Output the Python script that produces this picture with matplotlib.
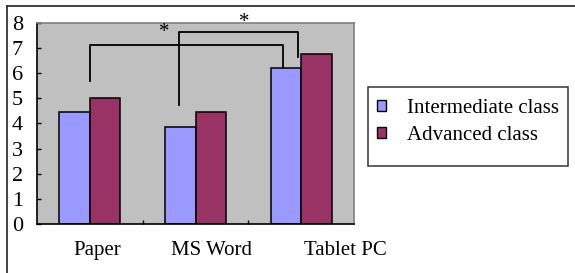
import matplotlib
matplotlib.use("Agg")
import matplotlib.pyplot as plt
from matplotlib.patches import Rectangle, Patch
from matplotlib.lines import Line2D
import numpy as np

plt.rcParams['font.family'] = ['Liberation Serif', 'DejaVu Serif']

categories = ["Paper", "MS Word", "Tablet PC"]
intermediate = [4.45, 3.85, 6.2]
advanced = [5.0, 4.45, 6.78]
series_names = ["Intermediate class", "Advanced class"]
y_ticks = [0, 1, 2, 3, 4, 5, 6, 7, 8]

c_int = "#9999FF"
c_adv = "#993366"
FS = 15

W, H = 575, 273
fig = plt.figure(figsize=(W / 100, H / 100), dpi=100)
ax = fig.add_axes([37 / W, 1 - 224 / H, (354 - 37) / W, (224 - 23) / H])
ax.set_facecolor("#C0C0C0")

x = np.arange(len(categories))
bw = 0.289
ax.bar(x - bw / 2, intermediate, bw, color=c_int, edgecolor="black", linewidth=1.1, zorder=2)
ax.bar(x + bw / 2, advanced, bw, color=c_adv, edgecolor="black", linewidth=1.1, zorder=2)

ax.set_xlim(-0.5, 2.5)
ax.set_ylim(0, 8)
ax.set_yticks(y_ticks)
ax.set_yticklabels([str(v) for v in y_ticks], fontsize=16)
ax.tick_params(axis='y', direction='in', length=3, width=1, pad=10, right=False)

# category labels (positions as in reference) + boundary ticks
label_pos = [0.07, 1.15, 2.42]
ax.set_xticks(label_pos)
ax.set_xticklabels(categories, fontsize=FS)
ax.tick_params(axis='x', which='major', length=0, pad=12.5)
ax.set_xticks([0.5, 1.5], minor=True)
ax.tick_params(axis='x', which='minor', direction='in', length=3, width=1)

for s in ["top", "right"]:
    ax.spines[s].set_color("#808080")
    ax.spines[s].set_linewidth(1.2)
for s in ["left", "bottom"]:
    ax.spines[s].set_color("black")
    ax.spines[s].set_linewidth(1.2)

# significance brackets
lw = 1.3
ax.plot([0.0, 0.0, 1.83, 1.83], [5.71, 7.12, 7.12, 6.21], color="black", lw=lw, zorder=3, clip_on=False)
ax.plot([0.84, 0.84, 1.97, 1.97], [4.74, 7.64, 7.64, 6.64], color="black", lw=lw, zorder=3, clip_on=False)
ax.text(0.70, 7.45, "*", fontsize=FS, ha="center", va="baseline", clip_on=False)
ax.text(1.46, 7.85, "*", fontsize=FS, ha="center", va="baseline", clip_on=False)

# legend
handles = [Patch(facecolor=c_int, edgecolor="black", linewidth=1.0),
           Patch(facecolor=c_adv, edgecolor="black", linewidth=1.0)]
leg = fig.legend(handles, series_names, loc="upper left",
                 bbox_to_anchor=(362 / W, 1 - 84 / H), frameon=False,
                 fontsize=FS, handlelength=0.45, handleheight=0.45,
                 handletextpad=1.0, labelspacing=0.4, borderpad=0.2)
fig.patches.append(Rectangle((367.7 / W, 1 - 166 / H), 200 / W, 79 / H,
                             transform=fig.transFigure, fill=False,
                             edgecolor="#333333", linewidth=1.1))

# outer border (left and top visible)
fig.lines.append(Line2D([7 / W, 7 / W], [0, 1 - 6 / H], transform=fig.transFigure, color="#333333", lw=1.3))
fig.lines.append(Line2D([7 / W, 1], [1 - 6 / H, 1 - 6 / H], transform=fig.transFigure, color="#333333", lw=1.3))

fig.savefig("out.png", dpi=100)
